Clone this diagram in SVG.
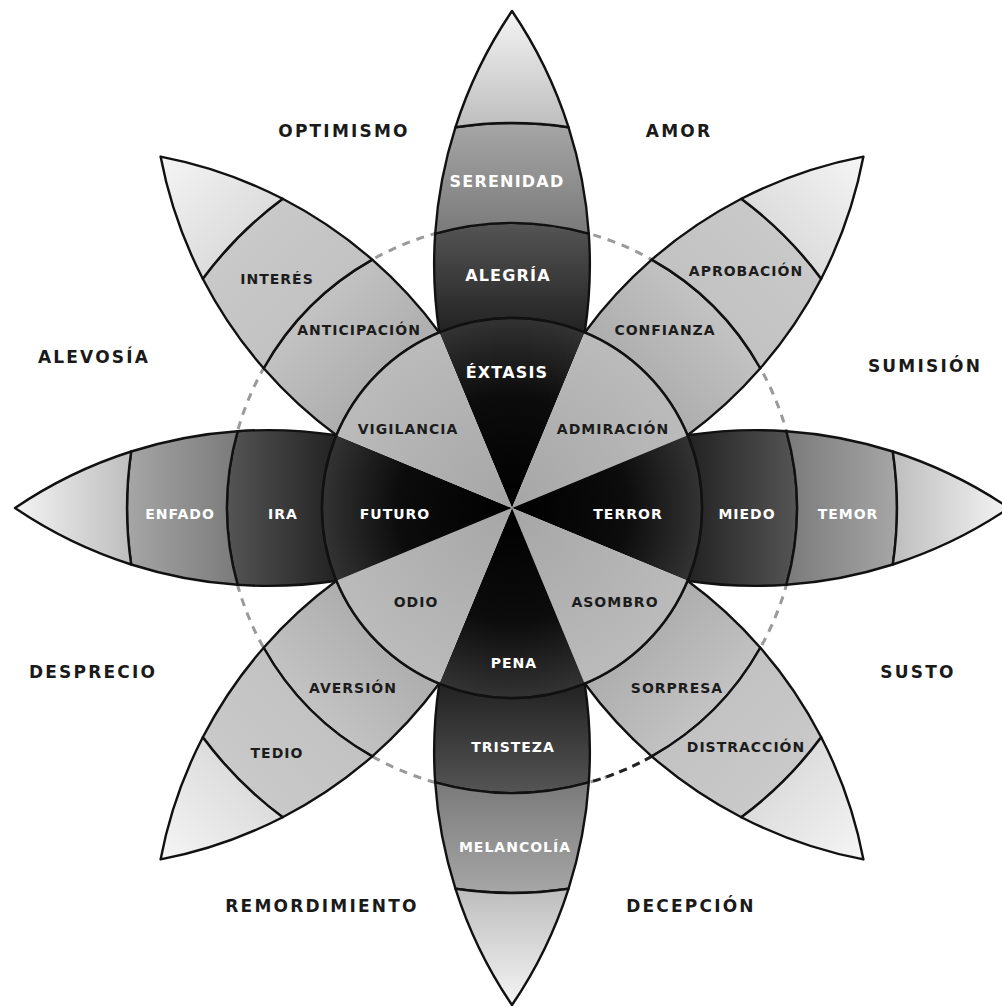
<svg xmlns="http://www.w3.org/2000/svg" width="1002" height="1006" viewBox="0 0 1002 1006">
<style>
.ol{stroke:#111;stroke-width:2.4;stroke-linejoin:round}
text{font-family:"DejaVu Sans","Liberation Sans",sans-serif;font-weight:bold;text-anchor:middle}
.t{font-size:14px;letter-spacing:1px}
.tb{font-size:16px;letter-spacing:1.2px}
.o{font-size:17px;letter-spacing:2.2px;fill:#1a1a1a}
.w{fill:#fff}
.k{fill:#1c1c1c}
</style>
<defs>
<path id="b1" d="M-72.7,-175.6 A190,190 0 0 1 72.7,-175.6 A450.3,450.3 0 0 0 76.8,-274.4 A285,285 0 0 0 -76.8,-274.4 A450.3,450.3 0 0 0 -72.7,-175.6 Z"/>
<path id="b2" d="M-76.8,-274.4 A285,285 0 0 1 76.8,-274.4 A450.3,450.3 0 0 0 56.5,-380.8 A385,385 0 0 0 -56.5,-380.8 A450.3,450.3 0 0 0 -76.8,-274.4 Z"/>
<path id="b3" d="M-56.5,-380.8 A385,385 0 0 1 56.5,-380.8 A450.3,450.3 0 0 0 0,-497 A450.3,450.3 0 0 0 -56.5,-380.8 Z"/>
<path id="wd" d="M0,0 L-72.7,-175.6 A190,190 0 0 1 72.7,-175.6 Z"/>
<linearGradient id="gD1" gradientUnits="userSpaceOnUse" x1="0" y1="-176" x2="0" y2="-285"><stop offset="0" stop-color="#222"/><stop offset="1" stop-color="#555"/></linearGradient>
<linearGradient id="gD2" gradientUnits="userSpaceOnUse" x1="0" y1="-274" x2="0" y2="-385"><stop offset="0" stop-color="#7a7a7a"/><stop offset="1" stop-color="#a6a6a6"/></linearGradient>
<linearGradient id="gD3" gradientUnits="userSpaceOnUse" x1="0" y1="-380" x2="0" y2="-497"><stop offset="0" stop-color="#bdbdbd"/><stop offset="1" stop-color="#f4f4f4"/></linearGradient>
<linearGradient id="gL1" gradientUnits="userSpaceOnUse" x1="0" y1="-176" x2="0" y2="-285"><stop offset="0" stop-color="#adadad"/><stop offset="1" stop-color="#c3c3c3"/></linearGradient>
<linearGradient id="gL2" gradientUnits="userSpaceOnUse" x1="0" y1="-274" x2="0" y2="-385"><stop offset="0" stop-color="#c2c2c2"/><stop offset="1" stop-color="#c9c9c9"/></linearGradient>
<linearGradient id="gL3" gradientUnits="userSpaceOnUse" x1="0" y1="-380" x2="0" y2="-497"><stop offset="0" stop-color="#dcdcdc"/><stop offset="1" stop-color="#f5f5f5"/></linearGradient>
<radialGradient id="gDS" gradientUnits="userSpaceOnUse" cx="0" cy="0" r="190"><stop offset="0" stop-color="#000"/><stop offset="0.6" stop-color="#0c0c0c"/><stop offset="1" stop-color="#333"/></radialGradient>
<radialGradient id="gLS" gradientUnits="userSpaceOnUse" cx="0" cy="0" r="190"><stop offset="0" stop-color="#a6a6a6"/><stop offset="1" stop-color="#bbb"/></radialGradient>
</defs>
<rect width="1002" height="1006" fill="#fff"/>
<g id="dashed-ring">
<circle cx="512" cy="508" r="285" fill="none" stroke="#9a9a9a" stroke-width="3" stroke-dasharray="8 7"/>
<path d="M651.9,756.3 A285,285 0 0 1 588.8,782.4" fill="none" stroke="#222" stroke-width="3" stroke-dasharray="8 6"/>
</g>
<g id="petal-n" transform="translate(512 508)"><use href="#b1" class="ol" fill="url(#gD1)"/><use href="#b2" class="ol" fill="url(#gD2)"/><use href="#b3" class="ol" fill="url(#gD3)"/></g>
<g id="petal-ne" transform="translate(512 508) rotate(45)"><use href="#b1" class="ol" fill="url(#gL1)"/><use href="#b2" class="ol" fill="url(#gL2)"/><use href="#b3" class="ol" fill="url(#gL3)"/></g>
<g id="petal-e" transform="translate(512 508) rotate(90)"><use href="#b1" class="ol" fill="url(#gD1)"/><use href="#b2" class="ol" fill="url(#gD2)"/><use href="#b3" class="ol" fill="url(#gD3)"/></g>
<g id="petal-se" transform="translate(512 508) rotate(135)"><use href="#b1" class="ol" fill="url(#gL1)"/><use href="#b2" class="ol" fill="url(#gL2)"/><use href="#b3" class="ol" fill="url(#gL3)"/></g>
<g id="petal-s" transform="translate(512 508) rotate(180)"><use href="#b1" class="ol" fill="url(#gD1)"/><use href="#b2" class="ol" fill="url(#gD2)"/><use href="#b3" class="ol" fill="url(#gD3)"/></g>
<g id="petal-sw" transform="translate(512 508) rotate(225)"><use href="#b1" class="ol" fill="url(#gL1)"/><use href="#b2" class="ol" fill="url(#gL2)"/><use href="#b3" class="ol" fill="url(#gL3)"/></g>
<g id="petal-w" transform="translate(512 508) rotate(270)"><use href="#b1" class="ol" fill="url(#gD1)"/><use href="#b2" class="ol" fill="url(#gD2)"/><use href="#b3" class="ol" fill="url(#gD3)"/></g>
<g id="petal-nw" transform="translate(512 508) rotate(315)"><use href="#b1" class="ol" fill="url(#gL1)"/><use href="#b2" class="ol" fill="url(#gL2)"/><use href="#b3" class="ol" fill="url(#gL3)"/></g>
<g id="core" transform="translate(512 508)">
<use href="#wd" fill="url(#gDS)"/>
<use href="#wd" transform="rotate(45)" fill="url(#gLS)"/>
<use href="#wd" transform="rotate(90)" fill="url(#gDS)"/>
<use href="#wd" transform="rotate(135)" fill="url(#gLS)"/>
<use href="#wd" transform="rotate(180)" fill="url(#gDS)"/>
<use href="#wd" transform="rotate(225)" fill="url(#gLS)"/>
<use href="#wd" transform="rotate(270)" fill="url(#gDS)"/>
<use href="#wd" transform="rotate(315)" fill="url(#gLS)"/>
<circle r="190" fill="none" stroke="#111" stroke-width="2.4"/>
</g>
<g id="labels">
<text class="tb w" x="507" y="187">SERENIDAD</text>
<text class="tb w" x="508" y="281">ALEGRÍA</text>
<text class="tb w" x="507" y="378">ÉXTASIS</text>
<text class="t k" x="408" y="434">VIGILANCIA</text>
<text class="t k" x="613" y="434">ADMIRACIÓN</text>
<text class="t w" x="395" y="519">FUTURO</text>
<text class="t w" x="628" y="519">TERROR</text>
<text class="t k" x="416" y="607">ODIO</text>
<text class="t k" x="615" y="607">ASOMBRO</text>
<text class="t w" x="514" y="668">PENA</text>
<text class="t k" x="353" y="693">AVERSIÓN</text>
<text class="t k" x="677" y="693">SORPRESA</text>
<text class="t w" x="513" y="752">TRISTEZA</text>
<text class="t k" x="746" y="752">DISTRACCIÓN</text>
<text class="t k" x="277" y="758">TEDIO</text>
<text class="t k" x="277" y="284">INTERÉS</text>
<text class="t k" x="359" y="335">ANTICIPACIÓN</text>
<text class="t k" x="746" y="276">APROBACIÓN</text>
<text class="t k" x="665" y="335">CONFIANZA</text>
<text class="t w" x="515" y="852">MELANCOLÍA</text>
<text class="t w" x="180" y="519">ENFADO</text>
<text class="t w" x="283" y="519">IRA</text>
<text class="t w" x="747" y="519">MIEDO</text>
<text class="t w" x="848" y="519">TEMOR</text>
</g>
<g id="dyads">
<text class="o" x="344" y="137">OPTIMISMO</text>
<text class="o" x="679" y="137">AMOR</text>
<text class="o" x="94" y="363">ALEVOSÍA</text>
<text class="o" x="925" y="372">SUMISIÓN</text>
<text class="o" x="93" y="678">DESPRECIO</text>
<text class="o" x="918" y="678">SUSTO</text>
<text class="o" x="322" y="912">REMORDIMIENTO</text>
<text class="o" x="691" y="912">DECEPCIÓN</text>
</g>
</svg>
